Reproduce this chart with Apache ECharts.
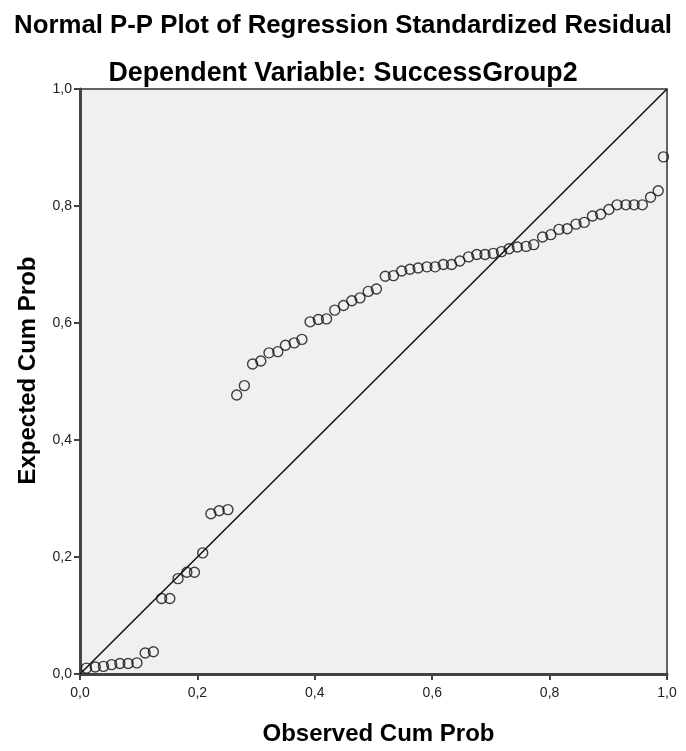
<!DOCTYPE html>
<html>
<head>
<meta charset="utf-8">
<script src="https://cdn.jsdelivr.net/npm/echarts@6/dist/echarts.min.js"></script>
<style>
  html, body { margin: 0; padding: 0; background: #ffffff; }
  #chart { width: 686px; height: 751px; }
</style>
</head>
<body>
<div id="chart"></div>
<script>
// Normal P-P plot of standardized regression residuals
const titleText = 'Normal P-P Plot of Regression Standardized Residual';
const subtitleText = 'Dependent Variable: SuccessGroup2';
const xAxisName = 'Observed Cum Prob';
const yAxisName = 'Expected Cum Prob';

// Observed cumulative probability of each residual
const observedCum = [
  0.011, 0.026, 0.040, 0.054, 0.068, 0.082, 0.097, 0.111, 0.125, 0.139,
  0.153, 0.167, 0.182, 0.195, 0.209, 0.223, 0.237, 0.252, 0.267, 0.280,
  0.294, 0.308, 0.322, 0.337, 0.350, 0.365, 0.378, 0.392, 0.406, 0.420,
  0.434, 0.449, 0.463, 0.477, 0.491, 0.505, 0.520, 0.534, 0.548, 0.562,
  0.576, 0.591, 0.605, 0.619, 0.633, 0.647, 0.662, 0.676, 0.690, 0.704,
  0.718, 0.731, 0.745, 0.760, 0.773, 0.788, 0.802, 0.816, 0.830, 0.845,
  0.859, 0.873, 0.887, 0.901, 0.915, 0.930, 0.944, 0.958, 0.972, 0.985,
  0.994
];

// Expected cumulative probability under the normal distribution
const expectedCum = [
  0.010, 0.012, 0.013, 0.016, 0.018, 0.018, 0.019, 0.036, 0.038, 0.129,
  0.129, 0.163, 0.174, 0.174, 0.207, 0.274, 0.279, 0.281, 0.477, 0.493,
  0.530, 0.535, 0.549, 0.551, 0.562, 0.566, 0.572, 0.602, 0.606, 0.607,
  0.622, 0.630, 0.638, 0.643, 0.654, 0.658, 0.680, 0.681, 0.689, 0.692,
  0.694, 0.696, 0.696, 0.700, 0.700, 0.706, 0.713, 0.717, 0.717, 0.719,
  0.722, 0.727, 0.730, 0.731, 0.734, 0.747, 0.751, 0.760, 0.761, 0.769,
  0.772, 0.783, 0.786, 0.794, 0.802, 0.802, 0.802, 0.802, 0.815, 0.826,
  0.884
];

// Reference diagonal (observed = expected)
const diagonal = [[0, 0], [1, 1]];

const tickValues = [0, 0.2, 0.4, 0.6, 0.8, 1.0];

const FONT = 'Arial, "Liberation Sans", sans-serif';
const fmt = v => v.toFixed(1).replace('.', ',');

const points = observedCum.map((x, i) => [x, expectedCum[i]]);

const axisCommon = {
  type: 'value',
  min: tickValues[0],
  max: tickValues[tickValues.length - 1],
  interval: 0.2,
  nameLocation: 'middle',
  axisLine: { show: true, onZero: false, lineStyle: { color: '#444', width: 3 } },
  axisTick: { show: true, inside: false, length: 6, lineStyle: { color: '#444', width: 2 } },
  axisLabel: { fontFamily: FONT, fontSize: 14, color: '#222', formatter: fmt },
  splitLine: { show: false }
};

const nameStyle = { fontFamily: FONT, fontWeight: 'bold', fontSize: 24, color: '#000' };

const chart = echarts.init(document.getElementById('chart'), null, { renderer: 'canvas' });
chart.setOption({
  animation: false,
  backgroundColor: '#ffffff',
  title: [
    {
      text: titleText, left: 'center', top: 8,
      textStyle: { fontFamily: FONT, fontWeight: 'bold', fontSize: 25.8, color: '#000' }
    },
    {
      text: subtitleText, left: 'center', top: 55,
      textStyle: { fontFamily: FONT, fontWeight: 'bold', fontSize: 26.8, color: '#000' }
    }
  ],
  grid: {
    left: 80, right: 19, top: 89, bottom: 72,
    show: true, backgroundColor: '#f0f0f0', borderColor: '#333', borderWidth: 1.5
  },
  xAxis: Object.assign({}, axisCommon, {
    name: xAxisName, nameGap: 48,
    nameTextStyle: Object.assign({}, nameStyle, { padding: [0, 0, 0, 10] }),
    axisLabel: Object.assign({}, axisCommon.axisLabel, { margin: 12 })
  }),
  yAxis: Object.assign({}, axisCommon, {
    name: yAxisName, nameGap: 40, nameRotate: 90,
    nameTextStyle: Object.assign({}, nameStyle, { padding: [0, 0, 0, 22] }),
    axisLabel: Object.assign({}, axisCommon.axisLabel, { margin: 8 })
  }),
  series: [
    {
      type: 'line',
      data: diagonal,
      symbol: 'none',
      lineStyle: { color: '#111', width: 1.5 },
      z: 2
    },
    {
      type: 'scatter',
      data: points,
      symbol: 'circle',
      symbolSize: 10,
      itemStyle: { color: 'rgba(0,0,0,0)', borderColor: '#111', borderWidth: 1.4 },
      z: 3
    }
  ]
});
</script>
</body>
</html>
